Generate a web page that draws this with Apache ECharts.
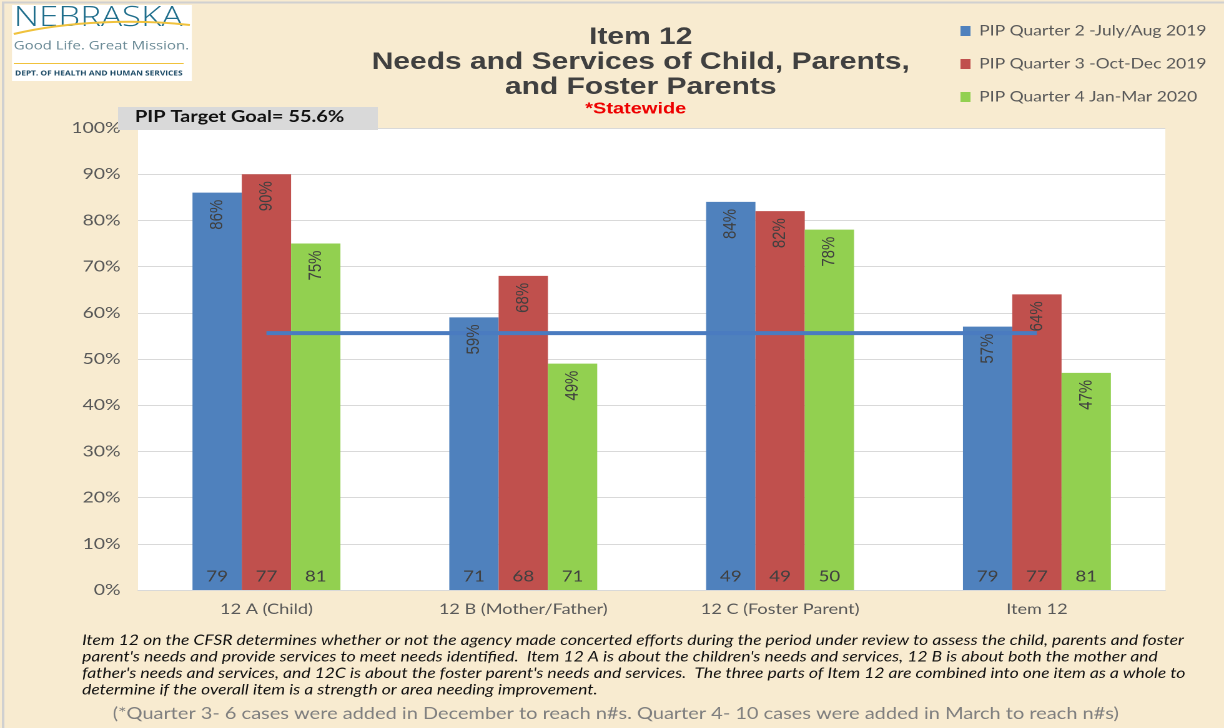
<!DOCTYPE html>
<html>
<head>
<meta charset="utf-8">
<script src="https://cdn.jsdelivr.net/npm/echarts@6/dist/echarts.min.js"></script>
<style>
  html, body { margin: 0; padding: 0; background: #f8ebd0; overflow: hidden; }
  #wrap { width: 1224px; height: 728px; overflow: hidden; }
  /* The slide is laid out at 980px wide and stretched to the full 1224px width */
  #chart { width: 980px; height: 728px; transform: scaleX(1.249); transform-origin: 0 0; }
</style>
</head>
<body>
<div id="wrap"><div id="chart"></div></div>
<script>
// Categories and series values (percent of cases rated strength)
const categories = ['12 A (Child)', '12 B (Mother/Father)', '12 C (Foster Parent)', 'Item 12'];
const seriesNames = ['PIP Quarter 2 -July/Aug 2019', 'PIP Quarter 3 -Oct-Dec 2019', 'PIP Quarter 4 Jan-Mar 2020'];
const q2Values = [86, 59, 84, 57];
const q3Values = [90, 68, 82, 64];
const q4Values = [75, 49, 78, 47];
// Number of cases reviewed behind each bar
const q2Counts = [79, 71, 49, 79];
const q3Counts = [77, 68, 49, 77];
const q4Counts = [81, 71, 50, 81];
// Target goal
const targetGoal = 55.6;
const yTicks = [0, 10, 20, 30, 40, 50, 60, 70, 80, 90, 100];

const colors = ['#4f81bd', '#c0504d', '#92d050'];
const valueSets = [q2Values, q3Values, q4Values];
const countSets = [q2Counts, q3Counts, q4Counts];

const chart = echarts.init(document.getElementById('chart'), null, { devicePixelRatio: 2 });

const barCommon = {
  type: 'bar',
  barGap: '0%',
  barCategoryGap: '42.4%'
};

// Coloured bars, with the case count written at the foot of each bar
const barSeries = valueSets.map((vals, i) => Object.assign({}, barCommon, {
  name: seriesNames[i],
  xAxisIndex: 0,
  data: vals,
  itemStyle: { color: colors[i] },
  z: 2,
  label: {
    show: true,
    position: 'insideBottom',
    distance: 6,
    formatter: p => String(countSets[i][p.dataIndex]),
    color: '#404040',
    fontFamily: 'Lato, sans-serif',
    fontSize: 15
  }
}));

// Transparent twin bars that carry the rotated percentage labels above the goal line
const pctLabelSeries = valueSets.map((vals, i) => Object.assign({}, barCommon, {
  name: seriesNames[i] + ' %',
  xAxisIndex: 1,
  data: vals,
  itemStyle: { color: 'rgba(0,0,0,0)' },
  z: 20,
  silent: true,
  label: {
    show: true,
    position: 'insideTop',
    rotate: 90,
    align: 'right',
    verticalAlign: 'middle',
    distance: 7,
    formatter: p => p.value + '%',
    color: '#404040',
    fontFamily: '"Liberation Sans Narrow", "Liberation Sans", sans-serif',
    fontSize: 15
  }
}));

const option = {
  backgroundColor: '#f8ebd0',
  animation: false,
  grid: { left: 110.5, right: 47, top: 128, bottom: 138, show: true, backgroundColor: '#ffffff', borderWidth: 0 },
  legend: {
    data: seriesNames,
    orient: 'vertical',
    left: 764,
    top: 19,
    icon: 'rect',
    itemWidth: 8,
    itemHeight: 10,
    itemGap: 19,
    textStyle: { color: '#595959', fontFamily: 'Lato, sans-serif', fontSize: 14, lineHeight: 14, padding: [0, 0, 0, 2] }
  },
  xAxis: [
    {
      type: 'category',
      data: categories,
      axisLine: { show: true, lineStyle: { color: '#d9d9d9', width: 1 } },
      axisTick: { show: false },
      axisLabel: { color: '#595959', fontFamily: 'Lato, sans-serif', fontSize: 14.5, margin: 12 }
    },
    {
      type: 'category',
      data: categories,
      show: false
    }
  ],
  yAxis: {
    type: 'value',
    min: yTicks[0],
    max: yTicks[yTicks.length - 1],
    interval: 10,
    axisLine: { show: false },
    axisTick: { show: false },
    splitLine: { lineStyle: { color: '#d9d9d9', width: 1 } },
    axisLabel: { formatter: '{value}%', color: '#595959', fontFamily: 'Lato, sans-serif', fontSize: 15.5, margin: 14 }
  },
  series: barSeries.concat([{
    name: 'PIP Target Goal',
    type: 'line',
    xAxisIndex: 0,
    data: categories.map(() => targetGoal),
    symbol: 'none',
    lineStyle: { color: '#4a7bc0', width: 4 },
    z: 10,
    silent: true
  }], pctLabelSeries),
  graphic: [
    // Page border
    { type: 'rect', left: 0, top: 0, shape: { width: 979, height: 727 }, style: { fill: 'none', stroke: '#d0d0d0', lineWidth: 2 } },
    // Logo block
    { type: 'rect', left: 9.6, top: 5, shape: { width: 144, height: 76 }, style: { fill: '#ffffff' } },
    { type: 'text', left: 11, top: 4, style: { text: 'NEBRASKA', fill: '#1f6e8c', font: '300 28px "Open Sans", Lato, sans-serif' } },
    { type: 'bezierCurve', shape: { x1: 11, y1: 34, x2: 152, y2: 25, cpx1: 55, cpy1: 21, cpx2: 110, cpy2: 19 }, style: { stroke: '#f0c23c', lineWidth: 2, fill: 'none' } },
    { type: 'text', left: 11, top: 40, style: { text: 'Good Life. Great Mission.', fill: '#6a8a96', font: '12px "Open Sans", Lato, sans-serif' } },
    { type: 'rect', left: 11, top: 63, shape: { width: 136, height: 1 }, style: { fill: '#f0c23c' } },
    { type: 'text', left: 12, top: 70, style: { text: 'DEPT. OF HEALTH AND HUMAN SERVICES', fill: '#1c4a66', font: 'bold 6.7px "Open Sans", Lato, sans-serif' } },
    // Title
    { type: 'text', x: 513, y: 25, style: { text: 'Item 12\nNeeds and Services of Child, Parents,\nand Foster Parents', fill: '#404040', font: 'bold 24px "Liberation Sans", Arial, sans-serif', lineHeight: 25, align: 'center' } },
    { type: 'text', x: 509, y: 101, style: { text: '*Statewide', fill: '#ee0000', font: 'bold 16px "Liberation Sans", Arial, sans-serif', align: 'center' } },
    // Target goal tag
    { type: 'rect', left: 94.5, top: 107, shape: { width: 208, height: 23 }, style: { fill: '#d9d9d9' }, z: 20 },
    { type: 'text', left: 108, top: 109, style: { text: 'PIP Target Goal= 55.6%', fill: '#111111', font: 'bold 16px Lato, sans-serif' }, z: 21 },
    // Notes
    { type: 'text', left: 65.7, top: 632, style: {
      text: "Item 12 on the CFSR determines whether or not the agency made concerted efforts during the period under review to assess the child, parents and foster\nparent's needs and provide services to meet needs identified.  Item 12 A is about the children's needs and services, 12 B is about both the mother and\nfather's needs and services, and 12C is about the foster parent's needs and services.  The three parts of Item 12 are combined into one item as a whole to\ndetermine if the overall item is a strength or area needing improvement.",
      fill: '#111111', font: 'italic 14px Lato, sans-serif', lineHeight: 16.5 } },
    { type: 'text', x: 493, y: 706, style: {
      text: '(*Quarter 3- 6 cases were added in December to reach n#s. Quarter 4- 10 cases were added in March to reach n#s)',
      fill: '#7f7f7f', font: '16px Lato, sans-serif', align: 'center' } }
  ]
};

chart.setOption(option);
</script>
</body>
</html>
